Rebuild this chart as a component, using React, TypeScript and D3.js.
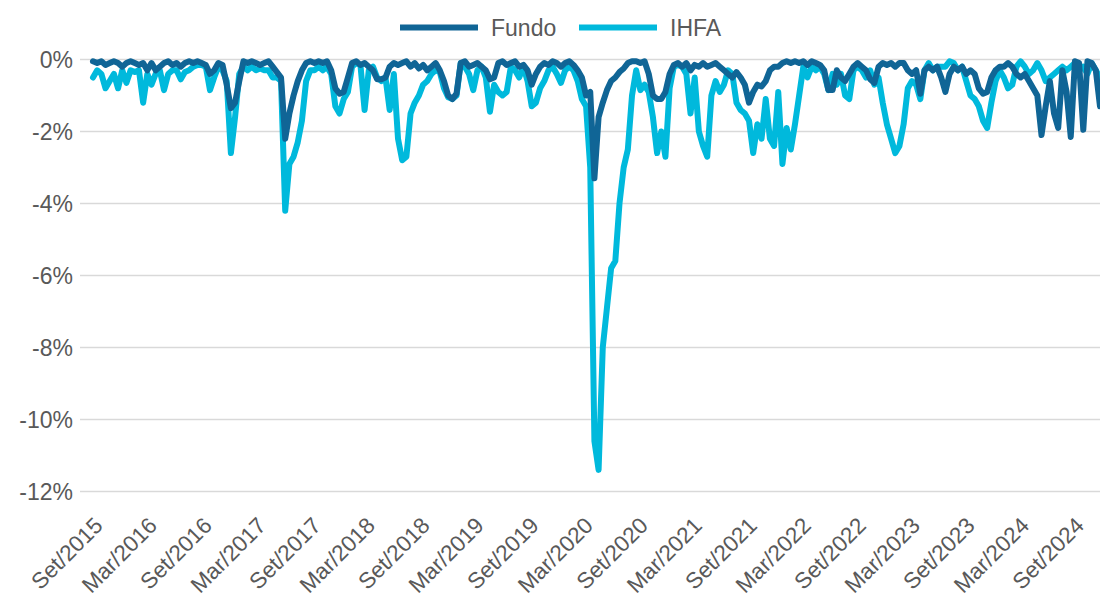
import React from "react";
import * as d3 from "d3";

// ---------- data ----------
const START_DATE = "2015-08-15";
const STEP_DAYS = 14; // one observation every two weeks

// Fundo drawdown (%)
const fundo: number[] = [
  -0.05, -0.1, -0.05, -0.15, -0.1, -0.05, -0.1, -0.2, -0.1, -0.05, -0.1, -0.15, -0.1,
  -0.3, -0.1, -0.3, -0.2, -0.1, -0.05, -0.15, -0.1, -0.2, -0.1, -0.05, -0.1, -0.05,
  -0.1, -0.15, -0.4, -0.3, -0.1, -0.15, -0.7, -1.35, -1.2, -0.6, -0.05, -0.1, -0.05,
  -0.1, -0.15, -0.1, -0.05, -0.2, -0.35, -0.5, -2.2, -1.5, -1.0, -0.6, -0.3, -0.1,
  -0.05, -0.1, -0.05, -0.1, -0.05, -0.3, -0.8, -0.95, -0.9, -0.5, -0.1, -0.05, -0.15,
  -0.1, -0.2, -0.3, -0.55, -0.55, -0.5, -0.2, -0.1, -0.15, -0.1, -0.05, -0.2, -0.1,
  -0.25, -0.15, -0.3, -0.2, -0.1, -0.3, -0.6, -1.0, -1.1, -0.95, -0.1, -0.05, -0.2,
  -0.15, -0.1, -0.2, -0.3, -0.55, -0.5, -0.1, -0.05, -0.15, -0.1, -0.05, -0.2, -0.15,
  -0.3, -0.7, -0.4, -0.2, -0.1, -0.15, -0.05, -0.1, -0.2, -0.1, -0.05, -0.15, -0.3,
  -0.5, -1.0, -0.9, -3.3, -1.6, -1.2, -0.85, -0.6, -0.5, -0.35, -0.25, -0.1, -0.05,
  -0.05, -0.1, -0.05, -0.4, -1.0, -1.1, -1.1, -0.9, -0.4, -0.15, -0.1, -0.2, -0.1,
  -0.3, -0.15, -0.2, -0.1, -0.2, -0.15, -0.1, -0.2, -0.3, -0.4, -0.5, -0.35, -0.5,
  -0.7, -1.2, -0.9, -0.7, -0.75, -0.6, -0.3, -0.2, -0.2, -0.1, -0.05, -0.1, -0.05,
  -0.1, -0.05, -0.15, -0.05, -0.1, -0.15, -0.3, -0.85, -0.85, -0.3, -0.5, -0.6, -0.4,
  -0.2, -0.1, -0.2, -0.3, -0.55, -0.65, -0.2, -0.1, -0.15, -0.1, -0.2, -0.1, -0.1,
  -0.3, -0.4, -0.3, -0.95, -0.3, -0.2, -0.3, -0.2, -0.5, -0.9, -0.4, -0.2, -0.3,
  -0.2, -0.4, -0.3, -0.4, -0.8, -0.95, -0.9, -0.5, -0.3, -0.2, -0.2, -0.1, -0.2,
  -0.4, -0.5, -0.4, -0.6, -0.8, -1.0, -2.1, -1.3, -0.6, -1.5, -1.9, -0.3, -0.9,
  -2.15, -0.05, -0.1, -1.95, -0.05, -0.1, -0.3, -1.3,
];

// IHFA drawdown (%)
const ihfa: number[] = [
  -0.5, -0.3, -0.4, -0.8, -0.6, -0.4, -0.8, -0.3, -0.65, -0.3, -0.35, -0.3, -1.2,
  -0.4, -0.7, -0.4, -0.3, -0.85, -0.4, -0.3, -0.3, -0.55, -0.35, -0.3, -0.2, -0.15,
  -0.15, -0.2, -0.85, -0.5, -0.2, -0.3, -0.6, -2.6, -1.6, -0.4, -0.2, -0.3, -0.2,
  -0.3, -0.25, -0.3, -0.3, -0.5, -0.5, -0.6, -4.2, -2.9, -2.7, -2.3, -1.7, -0.6,
  -0.3, -0.3, -0.2, -0.3, -0.2, -0.4, -1.3, -1.5, -1.1, -0.9, -0.2, -0.1, -0.15,
  -1.4, -0.3, -0.2, -0.5, -0.6, -0.5, -1.4, -0.4, -2.2, -2.8, -2.7, -1.5, -1.2,
  -1.0, -0.7, -0.6, -0.4, -0.3, -0.35, -0.8, -1.05, -1.1, -1.0, -0.1, -0.2, -0.4,
  -0.85, -0.3, -0.2, -0.5, -1.45, -0.7, -0.9, -1.0, -0.9, -0.2, -0.3, -0.5, -0.2,
  -0.6, -1.3, -1.2, -0.8, -0.6, -0.3, -0.2, -0.4, -0.65, -0.3, -0.2, -0.3, -0.6,
  -1.1, -1.3, -3.0, -10.6, -11.4, -8.0, -6.9, -5.8, -5.6, -4.0, -3.0, -2.5, -1.0,
  -0.3, -0.85, -0.7, -0.9, -1.6, -2.6, -2.0, -2.7, -0.8, -0.2, -0.15, -0.2, -0.4,
  -1.5, -0.5, -2.0, -2.4, -2.7, -1.0, -0.6, -0.9, -0.7, -0.3, -0.4, -1.2, -1.4,
  -1.5, -1.7, -2.6, -1.8, -2.2, -1.1, -2.2, -2.4, -0.9, -2.9, -1.9, -2.5, -1.8,
  -1.0, -0.2, -0.5, -0.2, -0.3, -0.2, -0.4, -0.85, -0.4, -0.7, -0.4, -1.0, -1.1,
  -0.3, -0.2, -0.3, -0.5, -0.3, -0.7, -0.5, -1.2, -1.8, -2.2, -2.6, -2.4, -1.8,
  -0.8, -0.6, -0.7, -1.1, -0.3, -0.1, -0.3, -0.2, -0.2, -0.2, -0.05, -0.1, -0.3,
  -0.2, -0.6, -1.0, -1.1, -1.3, -1.7, -1.9, -1.2, -0.6, -0.3, -0.5, -0.8, -0.7,
  -0.2, -0.05, -0.2, -0.4, -0.3, -0.1, -0.3, -0.6, -0.5, -0.4, -0.3, -0.2, -0.3,
  -0.2, -0.1, -0.3, -0.2, -0.4, -0.1, -0.3, -0.5,
];

const xTickDates = [
  "2015-09-01", "2016-03-01", "2016-09-01", "2017-03-01", "2017-09-01",
  "2018-03-01", "2018-09-01", "2019-03-01", "2019-09-01", "2020-03-01",
  "2020-09-01", "2021-03-01", "2021-09-01", "2022-03-01", "2022-09-01",
  "2023-03-01", "2023-09-01", "2024-03-01", "2024-09-01",
];
const xTickLabels = [
  "Set/2015", "Mar/2016", "Set/2016", "Mar/2017", "Set/2017",
  "Mar/2018", "Set/2018", "Mar/2019", "Set/2019", "Mar/2020",
  "Set/2020", "Mar/2021", "Set/2021", "Mar/2022", "Set/2022",
  "Mar/2023", "Set/2023", "Mar/2024", "Set/2024",
];
const yTicks = [0, -2, -4, -6, -8, -10, -12];
const seriesNames = ["Fundo", "IHFA"];
const seriesColors = ["#106596", "#00B9DC"];

// ---------- chart ----------
const W = 1100;
const H = 605;
const FONT = "Arial, 'Liberation Sans', sans-serif";
const TEXT = "#595959";

export default function App() {
  const parse = d3.timeParse("%Y-%m-%d");
  const start = parse(START_DATE) as Date;
  const dates = fundo.map((_, i) => d3.timeDay.offset(start, i * STEP_DAYS));

  const x = d3
    .scaleTime()
    .domain([dates[0], dates[dates.length - 1]])
    .range([93, 1100]);
  const y = d3.scaleLinear().domain([-12, 0]).range([491.5, 59.5]);

  const line = d3
    .line<number>()
    .x((_, i) => x(dates[i]))
    .y((d) => y(d))
    .curve(d3.curveLinear);

  const series = [fundo, ihfa];
  const drawOrder = [1, 0]; // IHFA below, Fundo on top

  const legendX = [400, 579];

  return (
    <svg
      width={W}
      height={H}
      style={{ position: "absolute", left: 0, top: 0, background: "#fff" }}
      fontFamily={FONT}
    >
      {/* gridlines */}
      {yTicks.map((t) => (
        <line
          key={"g" + t}
          x1={80}
          x2={1100}
          y1={y(t)}
          y2={y(t)}
          stroke="#d9d9d9"
          strokeWidth={1.5}
        />
      ))}
      {/* y labels */}
      {yTicks.map((t) => (
        <text
          key={"yl" + t}
          x={73}
          y={y(t)}
          dy="0.35em"
          textAnchor="end"
          fontSize={23}
          fill={TEXT}
        >
          {t + "%"}
        </text>
      ))}
      {/* x labels */}
      {xTickDates.map((d, i) => {
        const px = x(parse(d) as Date);
        return (
          <text
            key={"xl" + d}
            transform={`translate(${px + 6},${527}) rotate(-45)`}
            textAnchor="end"
            fontSize={22.5}
            fill={TEXT}
          >
            {xTickLabels[i]}
          </text>
        );
      })}
      {/* series */}
      {drawOrder.map((s) => (
        <path
          key={"s" + s}
          d={line(series[s]) || ""}
          fill="none"
          stroke={seriesColors[s]}
          strokeWidth={6}
          strokeLinejoin="round"
          strokeLinecap="round"
        />
      ))}
      {/* legend */}
      {seriesNames.map((n, i) => (
        <g key={"lg" + n}>
          <line
            x1={legendX[i]}
            x2={legendX[i] + 78}
            y1={27.5}
            y2={27.5}
            stroke={seriesColors[i]}
            strokeWidth={6}
          />
          <text
            x={legendX[i] + 91}
            y={27.5}
            dy="0.36em"
            fontSize={23}
            fill={TEXT}
          >
            {n}
          </text>
        </g>
      ))}
    </svg>
  );
}
